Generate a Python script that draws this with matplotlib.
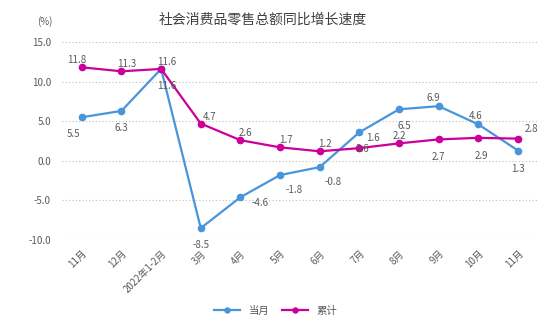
import matplotlib
matplotlib.use("Agg")
import matplotlib.pyplot as plt

plt.rcParams['font.family'] = ['Noto Sans CJK SC', 'DejaVu Sans']
plt.rcParams['axes.unicode_minus'] = False

months = ["11月", "12月", "2022年1-2月", "3月", "4月", "5月", "6月",
          "7月", "8月", "9月", "10月", "11月"]
monthly = [5.5, 6.3, 11.6, -8.5, -4.6, -1.8, -0.8, 3.6, 6.5, 6.9, 4.6, 1.3]
cumulative = [11.8, 11.3, 11.6, 4.7, 2.6, 1.7, 1.2, 1.6, 2.2, 2.7, 2.9, 2.8]

blue = "#4895DA"
magenta = "#CC0099"
gray = "#595959"

# label offsets in points (dx, dy)
monthly_off = [(-6, -12), (0, -12), (4, -12), (0, -12), (14, -4), (10, -11),
               (10, -11), (2, -12), (4, -12), (-4, 6), (-2, 6), (0, -13)]
cum_off = [(-4, 5), (4, 5), (4, 5), (6, 5), (4, 5), (4, 5), (4, 5),
           (10, 7), (0, 5), (0, -13), (2, -13), (10, 7)]

fig = plt.figure(figsize=(5.51, 3.27), dpi=100)
ax = fig.add_axes([0.1125, 0.266, 0.8635, 0.6056])

x = list(range(len(months)))
ax.plot(x, monthly, color=blue, lw=1.6, marker="o", ms=4.5, label="当月", zorder=3)
ax.plot(x, cumulative, color=magenta, lw=1.6, marker="o", ms=4.5, label="累计", zorder=3)

for i, v in enumerate(monthly):
    ax.annotate(f"{v:.1f}", (i, v), xytext=monthly_off[i], textcoords="offset points",
                ha="center", va="center", fontsize=7, color=gray, zorder=4)
for i, v in enumerate(cumulative):
    if i == len(cumulative) - 1:
        ax.annotate(f"{v:.1f}", (i, v), xytext=cum_off[i], textcoords="offset points",
                    ha="center", va="center", fontsize=7, color=gray, zorder=4,
                    arrowprops=dict(arrowstyle="-", color="#BFBFBF", lw=0.6,
                                    shrinkA=4, shrinkB=3))
    else:
        ax.annotate(f"{v:.1f}", (i, v), xytext=cum_off[i], textcoords="offset points",
                    ha="center", va="center", fontsize=7, color=gray, zorder=4)

ax.set_xlim(-0.5, len(months) - 0.5)
ax.set_ylim(-10, 15)
ax.set_yticks([-10, -5, 0, 5, 10, 15])
ax.set_yticklabels([f"{t:.1f}" for t in [-10, -5, 0, 5, 10, 15]])
ax.set_xticks(x)
ax.set_xticklabels(months, rotation=45, ha="right", rotation_mode="anchor")
ax.tick_params(axis="both", length=0, labelsize=7, colors=gray)
ax.tick_params(axis="x", pad=6)
ax.tick_params(axis="y", pad=8)
ax.grid(axis="y", color="#BFBFBF", linestyle=(0, (1, 2)), lw=0.8)
ax.set_axisbelow(True)
for s in ax.spines.values():
    s.set_visible(False)

fig.text(0.476, 0.94, "社会消费品零售总额同比增长速度", ha="center", va="center",
         fontsize=10, color="#404040")
fig.text(0.082, 0.935, "(%)", ha="center", va="center", fontsize=7, color=gray)

fig.legend(loc="center", bbox_to_anchor=(0.5, 0.05), ncol=2, frameon=False,
           fontsize=7.5, labelcolor=gray, handlelength=2.5, columnspacing=1.2,
           markerscale=0.8)

fig.savefig("out.png", dpi=100)
